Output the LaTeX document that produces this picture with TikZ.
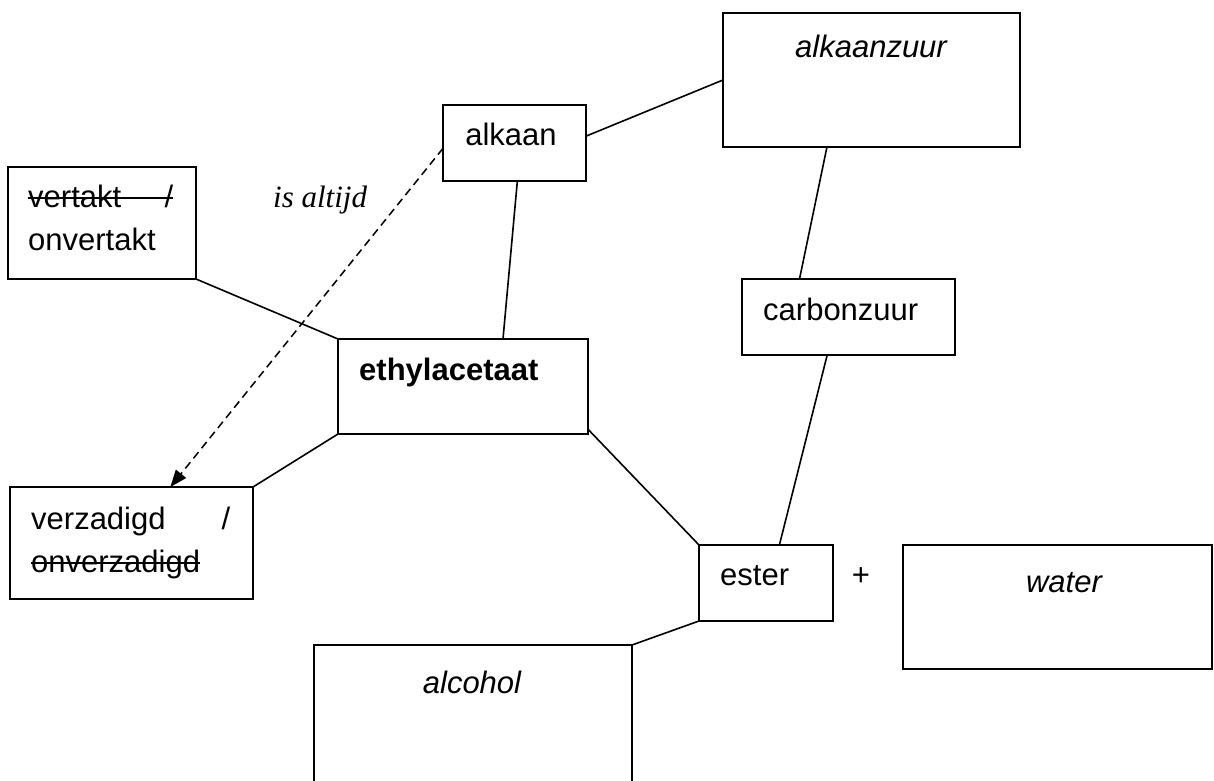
\documentclass[tikz,border=0pt]{standalone}
\usepackage{fontspec}
\setmainfont{Liberation Sans}
\newfontfamily\serifit{Liberation Serif}
\usetikzlibrary{calc,arrows.meta}

\begin{document}
\begin{tikzpicture}[x=1bp,y=-1bp,
  box/.style={draw, line width=1.9bp, rectangle, inner sep=0, outer sep=0},
  lbl/.style={inner sep=0, anchor=base west, font=\fontsize{31bp}{37bp}\selectfont},
  clbl/.style={inner sep=0, anchor=base, font=\fontsize{31bp}{37bp}\selectfont},
  link/.style={line width=1.6bp},
  strike/.style={line width=1.6bp},
  hint/.style={line width=1.5bp, dash pattern=on 8bp off 5bp,
    -{Triangle[length=17bp,width=13bp]}}]

\path[use as bounding box] (0,0) rectangle (1214,781);
\begin{scope}
\clip (0,0) rectangle (1214,781);

% boxes
\node[box, minimum width=297bp, minimum height=134bp] (zuur) at (871.5,80) {};
\node[box, minimum width=143bp, minimum height=76bp] (alkaan) at (514.5,143) {};
\node[box, minimum width=188bp, minimum height=112bp] (vertakt) at (102,223) {};
\node[box, minimum width=250bp, minimum height=95bp] (ethyl) at (463,386.5) {};
\node[box, minimum width=213bp, minimum height=76bp] (carbon) at (848.5,317) {};
\node[box, minimum width=243bp, minimum height=112bp] (verzad) at (131.5,543) {};
\node[box, minimum width=134bp, minimum height=76bp] (ester) at (766,583) {};
\node[box, minimum width=309bp, minimum height=124bp] (water) at (1057.5,607) {};
\node[box, minimum width=318bp, minimum height=175bp] (alcohol) at (473,732.5) {};

% texts
\node[clbl, font=\fontsize{31bp}{37bp}\selectfont\itshape] (tzuur) at (871,58) {alkaanzuur};
\node[clbl] (talkaan) at (511,145) {alkaan};
\node[lbl] (tvert1) at (28,207) {vertakt\hspace{1.4em}/};
\node[lbl] (tvert2) at (28,250) {onvertakt};
\node[lbl, font=\fontsize{31bp}{37bp}\selectfont\serifit\itshape] (tis) at (273,207) {is altijd};
\node[lbl, font=\fontsize{31bp}{37bp}\selectfont\bfseries] (tethyl) at (359,380) {ethylacetaat};
\node[lbl] (tcarbon) at (763,320) {carbonzuur};
\node[lbl] (tverz1) at (31,529) {\makebox[199bp][s]{verzadigd\hfill/}};
\node[lbl] (tverz2) at (31,572) {onverzadigd};
\node[lbl] (tester) at (720,585) {ester};
\node[clbl] (tplus) at (861,585) {+};
\node[clbl, font=\fontsize{31bp}{37bp}\selectfont\itshape] (twater) at (1064,592) {water};
\node[clbl, font=\fontsize{31bp}{37bp}\selectfont\itshape] (talcohol) at (472,693) {alcohol};

% struck-out alternatives
\draw[strike] ($(tvert1.base west)+(0,-9)$) -- ($(tvert1.base east)+(0,-9)$);
\draw[strike] ($(tverz2.base west)+(0,-9)$) -- ($(tverz2.base east)+(0,-9)$);

% connectors
\draw[link] ($(alkaan.north east)!0.41!(alkaan.south east)$) -- (zuur.west);
\draw[link] ($(alkaan.south west)!0.52!(alkaan.south east)$) -- ($(ethyl.north west)!0.66!(ethyl.north east)$);
\draw[link] (vertakt.south east) -- (ethyl.north west);
\draw[link] (ethyl.south west) -- (verzad.north east);
\draw[link] ($(ethyl.north east)!0.95!(ethyl.south east)$) -- (ester.north west);
\draw[link] ($(zuur.south west)!0.35!(zuur.south east)$) -- ($(carbon.north west)!0.27!(carbon.north east)$);
\draw[link] ($(carbon.south west)!0.40!(carbon.south east)$) -- ($(ester.north west)!0.6!(ester.north east)$);
\draw[link] (ester.south west) -- (alcohol.north east);
\draw[hint] ($(alkaan.north west)!0.57!(alkaan.south west)$) -- ($(verzad.north west)!0.66!(verzad.north east)$);
\end{scope}
\end{tikzpicture}
\end{document}
